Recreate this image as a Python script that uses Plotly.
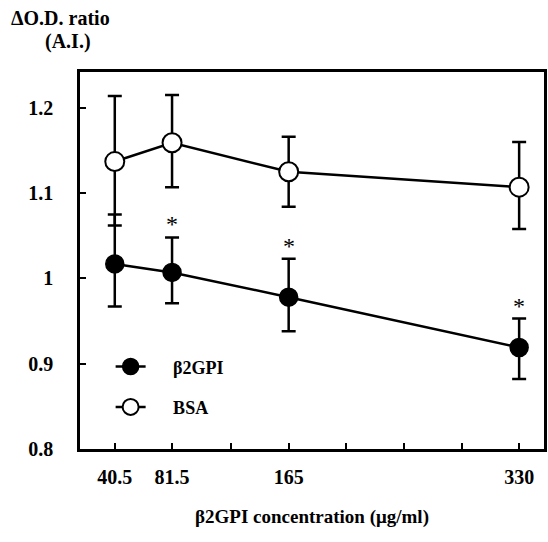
import plotly.graph_objects as go

# ---- data ----
concentration = [40.5, 81.5, 165, 330]
x_tick_labels = ["40.5", "81.5", "165", "330"]

b2gpi_mean = [1.017, 1.007, 0.978, 0.919]
b2gpi_err_plus = [0.058, 0.041, 0.045, 0.034]
b2gpi_err_minus = [0.050, 0.036, 0.040, 0.037]
b2gpi_signif = [False, True, True, True]

bsa_mean = [1.137, 1.159, 1.125, 1.107]
bsa_err_plus = [0.077, 0.056, 0.041, 0.053]
bsa_err_minus = [0.075, 0.052, 0.041, 0.049]

y_tick_vals = [0.8, 0.9, 1.0, 1.1, 1.2]
y_tick_labels = ["0.8", "0.9", "1", "1.1", "1.2"]

FONT = "Liberation Serif, Times New Roman, serif"
LW = 2.5
PAD = "\u00a0" * 5

fig = go.Figure()
fig.add_trace(go.Scatter(
    x=concentration, y=b2gpi_mean, name=PAD + "<b>β2GPI</b>", mode="lines+markers",
    line=dict(color="black", width=LW),
    marker=dict(symbol="circle", size=18, color="black", line=dict(color="black", width=1.5)),
    error_y=dict(type="data", symmetric=False, array=b2gpi_err_plus, arrayminus=b2gpi_err_minus,
                 color="black", thickness=LW, width=7),
    legendgroup="a",
))
fig.add_trace(go.Scatter(
    x=concentration, y=bsa_mean, name=PAD + "<b>BSA</b>", mode="lines+markers",
    line=dict(color="black", width=LW),
    marker=dict(symbol="circle", size=19, color="white", line=dict(color="black", width=2)),
    error_y=dict(type="data", symmetric=False, array=bsa_err_plus, arrayminus=bsa_err_minus,
                 color="black", thickness=LW, width=7),
    legendgroup="b",
))

for xv, m, ep, s in zip(concentration, b2gpi_mean, b2gpi_err_plus, b2gpi_signif):
    if s:
        fig.add_annotation(x=xv, y=m + ep, text="*", showarrow=False, yanchor="bottom",
                           yshift=-2, font=dict(family=FONT, size=24, color="black"))

fig.add_annotation(x=-0.152, y=1.143, xref="paper", yref="paper", text="<b>ΔO.D. ratio</b>",
                   showarrow=False, xanchor="left", yanchor="middle",
                   font=dict(family=FONT, size=20, color="black"))
fig.add_annotation(x=-0.025, y=1.08, xref="paper", yref="paper", text="<b>(A.I.)</b>",
                   showarrow=False, xanchor="center", yanchor="middle",
                   font=dict(family=FONT, size=20, color="black"))
fig.add_annotation(x=0.50, y=-0.18, xref="paper", yref="paper",
                   text="<b>β2GPI concentration (μg/ml)</b>",
                   showarrow=False, xanchor="center", yanchor="middle",
                   font=dict(family=FONT, size=19, color="black"))

minor_x = [330 / 8 * k for k in (3, 5, 6, 7)]

fig.update_layout(
    width=548, height=542,
    margin=dict(l=80, r=1, t=72, b=93),
    paper_bgcolor="white", plot_bgcolor="white",
    font=dict(family=FONT, size=18, color="black"),
    showlegend=True,
    legend=dict(x=0.066, y=0.165, xanchor="left", yanchor="middle", bgcolor="rgba(0,0,0,0)",
                font=dict(family=FONT, size=18, color="black"), tracegroupgap=14,
                traceorder="grouped"),
    xaxis=dict(range=[15.6, 347.8], tickvals=concentration,
               ticktext=["<b>%s</b>" % t for t in x_tick_labels],
               tickfont=dict(family=FONT, size=20, color="black"),
               ticks="inside", ticklen=6, tickwidth=2, tickcolor="black",
               showline=True, linecolor="black", linewidth=LW, mirror=True,
               showgrid=False, zeroline=False, ticklabelstandoff=8,
               minor=dict(tickvals=minor_x, ticks="inside", ticklen=6, tickwidth=2, tickcolor="black")),
    yaxis=dict(range=[0.8, 1.242], tickvals=y_tick_vals,
               ticktext=["<b>%s</b>" % t for t in y_tick_labels],
               tickfont=dict(family=FONT, size=20, color="black"),
               ticks="inside", ticklen=6, tickwidth=2, tickcolor="black",
               showline=True, linecolor="black", linewidth=LW, mirror=True,
               showgrid=False, zeroline=False, ticklabelstandoff=20),
)

fig.write_html("out.html")
